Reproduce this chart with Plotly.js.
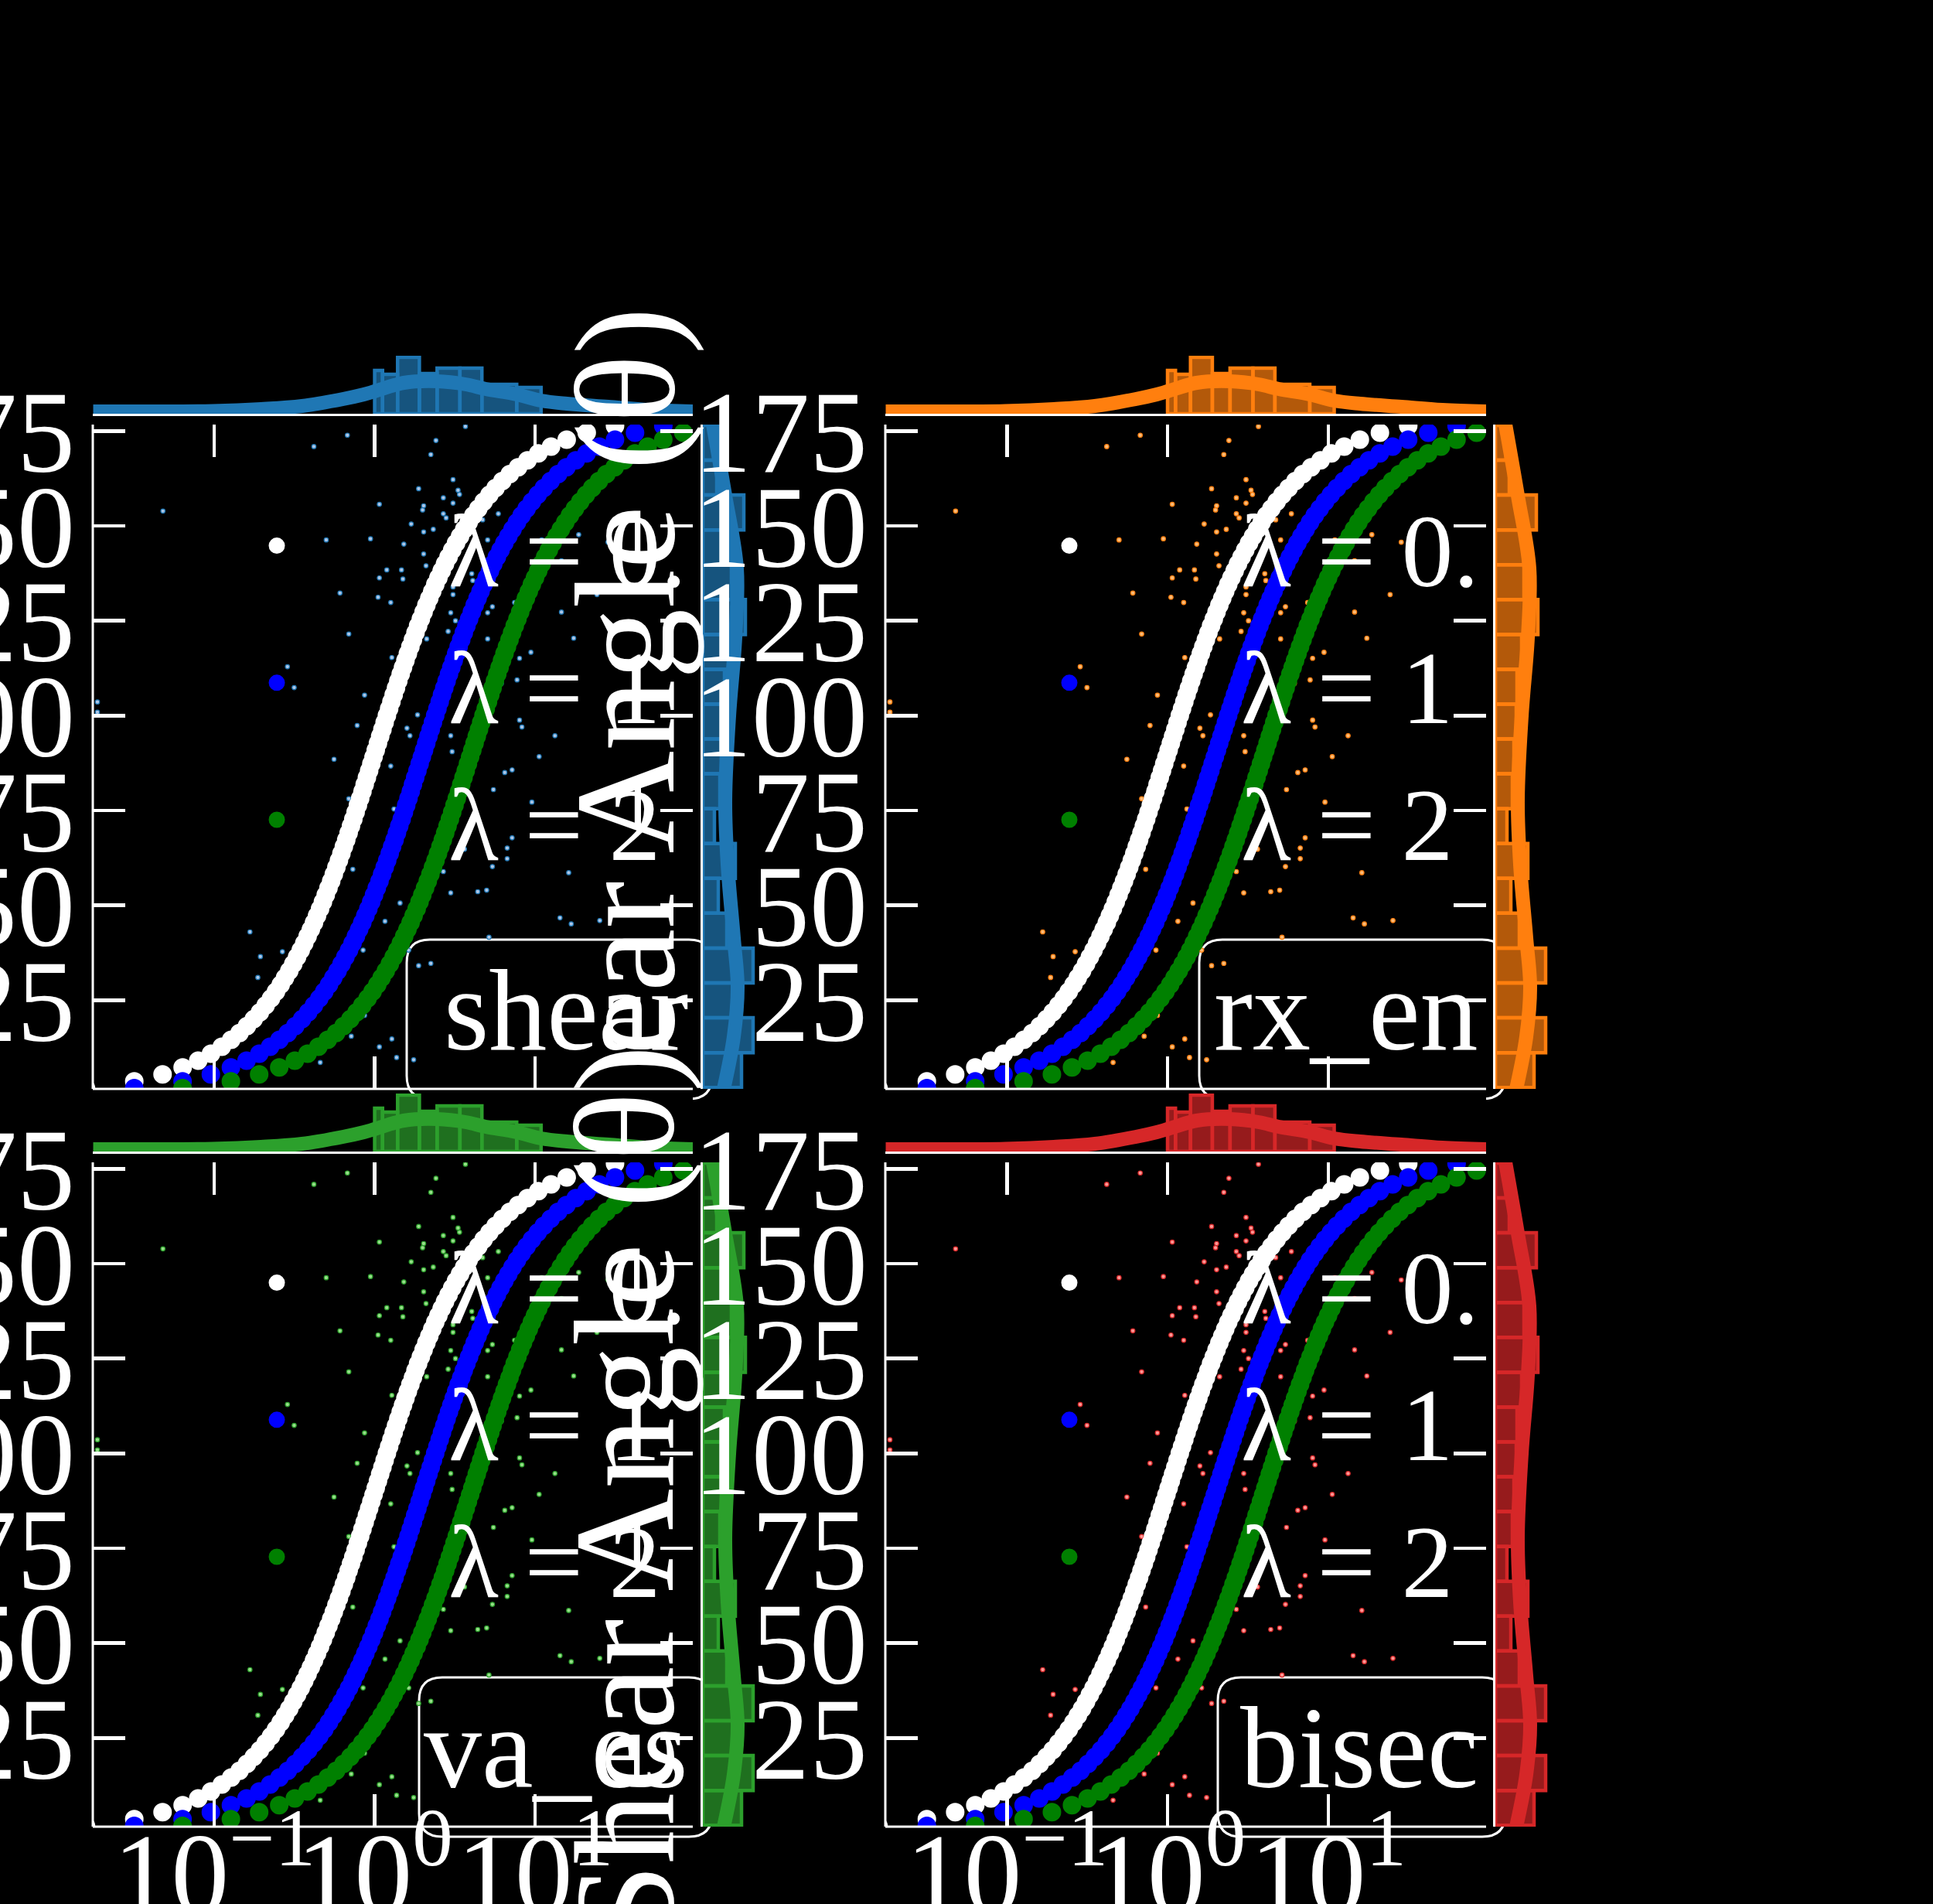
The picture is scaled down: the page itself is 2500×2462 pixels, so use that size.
<!DOCTYPE html>
<html><head><meta charset="utf-8">
<script src="https://cdn.plot.ly/plotly-3.0.1.min.js"></script>
<style>html,body{margin:0;padding:0;background:#000;}#chart{width:2500px;height:2462px;}</style>
</head><body><div id="chart"></div>
<script>
// ---------------- data ----------------
const curveTheta = [1.82,3.64,5.45,7.27,9.09,10.91,12.73,14.55,16.36,18.18,20.00,21.82,23.64,25.45,27.27,29.09,30.91,32.73,34.55,36.36,38.18,40.00,41.82,43.64,45.45,47.27,49.09,50.91,52.73,54.55,56.36,58.18,60.00,61.82,63.64,65.45,67.27,69.09,70.91,72.73,74.55,76.36,78.18,80.00,81.82,83.64,85.45,87.27,89.09,90.91,92.73,94.55,96.36,98.18,100.00,101.82,103.64,105.45,107.27,109.09,110.91,112.73,114.55,116.36,118.18,120.00,121.82,123.64,125.45,127.27,129.09,130.91,132.73,134.55,136.36,138.18,140.00,141.82,143.64,145.45,147.27,149.09,150.91,152.73,154.55,156.36,158.18,160.00,161.82,163.64,165.45,167.27,169.09,170.91,172.73,174.55,176.36,178.18];
const curveX_l05 = [0.01587,0.03174,0.04764,0.06355,0.07950,0.09549,0.1115,0.1276,0.1438,0.1600,0.1763,0.1927,0.2092,0.2259,0.2426,0.2595,0.2765,0.2936,0.3109,0.3284,0.3461,0.3640,0.3820,0.4003,0.4189,0.4376,0.4567,0.4760,0.4956,0.5155,0.5358,0.5564,0.5774,0.5987,0.6205,0.6427,0.6653,0.6885,0.7121,0.7363,0.7610,0.7864,0.8124,0.8391,0.8665,0.8947,0.9237,0.9535,0.9843,1.016,1.049,1.083,1.118,1.154,1.192,1.231,1.272,1.314,1.358,1.404,1.453,1.503,1.556,1.612,1.670,1.732,1.797,1.866,1.940,2.018,2.101,2.190,2.285,2.387,2.498,2.618,2.747,2.889,3.045,3.216,3.406,3.617,3.854,4.122,4.428,4.779,5.188,5.671,6.250,6.955,7.836,8.967,10.47,12.58,15.74,20.99,31.50,63.02];
const curveX_l1 = [0.03174,0.06348,0.09528,0.1271,0.1590,0.1910,0.2230,0.2552,0.2876,0.3200,0.3526,0.3854,0.4184,0.4518,0.4852,0.5190,0.5530,0.5872,0.6218,0.6568,0.6922,0.7280,0.7640,0.8006,0.8378,0.8752,0.9134,0.9520,0.9912,1.031,1.072,1.113,1.155,1.197,1.241,1.285,1.331,1.377,1.424,1.473,1.522,1.573,1.625,1.678,1.733,1.789,1.847,1.907,1.969,2.032,2.098,2.166,2.236,2.308,2.384,2.462,2.544,2.628,2.716,2.808,2.906,3.006,3.112,3.224,3.340,3.464,3.594,3.732,3.880,4.036,4.202,4.380,4.570,4.774,4.996,5.236,5.494,5.778,6.090,6.432,6.812,7.234,7.708,8.244,8.856,9.558,10.38,11.34,12.50,13.91,15.67,17.93,20.94,25.16,31.48,41.98,63.00,126.0];
const curveX_l2 = [0.06348,0.1270,0.1906,0.2542,0.3180,0.3820,0.4460,0.5104,0.5752,0.6400,0.7052,0.7708,0.8368,0.9036,0.9704,1.038,1.106,1.174,1.244,1.314,1.384,1.456,1.528,1.601,1.676,1.750,1.827,1.904,1.982,2.062,2.143,2.226,2.310,2.395,2.482,2.571,2.661,2.754,2.848,2.945,3.044,3.146,3.250,3.356,3.466,3.579,3.695,3.814,3.937,4.064,4.196,4.332,4.472,4.616,4.768,4.924,5.088,5.256,5.432,5.616,5.812,6.012,6.224,6.448,6.680,6.928,7.188,7.464,7.760,8.072,8.404,8.760,9.140,9.548,9.992,10.47,10.99,11.56,12.18,12.86,13.62,14.47,15.42,16.49,17.71,19.12,20.75,22.68,25.00,27.82,31.34,35.87,41.88,50.32,62.96,83.96,126.0,252.1];
const seriesNames = ['λ = 0.<span style="color:rgba(0,0,0,0)">5</span>', 'λ = 1', 'λ = 2'];
const seriesColors = ['#ffffff', '#0000ff', '#008000'];

const pointsX = [0.676,0.418,2.24,2.41,3.68,0.0479,1.88,3.08,3.31,3.38,1.07,2.02,1.99,2.68,2.68,2.79,3.08,1.69,2.02,2.32,0.499,0.942,1.52,4.71,5.90,5.06,1.07,1.19,1.47,1.50,0.608,1.05,1.26,2.02,2.09,2.77,2.68,2.87,3.08,3.08,4.03,4.09,5.42,5.06,7.45,8.58,11.0,14.6,18.7,24.3,28.5,14.6,17.4,0.690,1.28,1.63,2.98,3.19,2.87,2.11,5.06,8.00,9.42,7.72,0.286,0.315,0.865,0.778,1.59,1.66,1.85,2.98,3.04,8.00,8.28,13.3,5.42,6.16,0.558,0.690,1.26,1.32,1.63,6.47,7.19,5.50,9.55,10.6,7.19,6.70,6.70,5.42,3.63,16.2,2.68,0.731,1.16,2.98,4.39,4.99,14.3,16.8,25.3,5.16,0.167,0.266,0.194,0.187,0.847,1.16,1.44,1.63,1.88,2.24,0.865,1.07,1.37,1.75,0.715,0.652,0.458,0.427,1.28,0.0187,0.0187];
const pointsTheta = [173.9,170.9,168.8,172.5,176.2,153.9,159.8,162.2,159.4,158.3,155.7,155.3,154.2,157.4,153.2,152.1,156.0,150.5,148.4,149.1,146.3,146.6,145.2,151.6,153.2,146.3,136.3,138.4,138.4,136.0,132.3,131.2,129.8,142.6,139.5,141.5,135.6,139.5,133.9,131.9,137.4,135.6,128.7,127.1,129.8,129.8,146.3,140.8,147.7,131.9,145.7,127.3,120.4,121.5,115.3,120.4,127.1,125.0,122.2,120.2,120.2,115.1,116.7,109.4,112.9,107.4,105.4,97.4,96.7,94.7,100.2,94.7,90.5,98.8,97.0,94.7,102.3,108.5,88.5,78.1,86.7,75.4,77.7,85.0,85.7,80.5,77.2,89.2,67.8,65.1,62.3,60.2,64.8,58.6,58.9,59.5,59.5,53.3,53.6,54.0,46.7,45.1,46.0,41.6,43.0,37.8,36.5,31.0,38.2,45.8,50.6,38.2,34.1,34.7,21.0,12.7,9.9,9.3,15.5,19.6,8.6,11.3,14.8,103.6,100.9];

// top marginal (x distribution): histogram bins and KDE
const topBinEdges = [1.0,1.12,1.39,1.90,2.45,3.40,4.66,7.68,10.9];
const topBinHeights = [56,51,73,52,59,59,38,34];
const topKdeX = [0.0176,0.0501,0.0977,0.196,0.353,0.635,0.857,1.0,1.52,2.45,3.69,4.92,7.67,10.9,15.8,28.6,51.3,96.2];
const topKdeY = [3,3,3.5,6,10,19,25,29,40,42,38,32,25,17,13,9,5,3];
// right marginal (angle distribution)
const rightBinEdges = [2.0,11.18,20.37,29.55,38.74,47.92,57.10,66.29,75.47,84.66,93.84,103.02,112.21,121.39,130.58,139.76,148.94,158.13,167.31,176.50];
const rightBinLengths = [50,65,45,65,31,20,42,15,22,24,27,28,34,55,37,37,53,18,14];
const rightKdeTheta = [1.6,15.4,28.4,41.4,60.8,77.6,99.9,120.6,138.8,158.0,176.7];
const rightKdeX = [27,40,45,40,32,29,34,42,44,29,13];

const panelLabels = ['shear','rx_en','va_es','bisec'];
const panelBase = ['#1f77b4','#ff7f0e','#2ca02c','#d62728'];
const panelLight = ['#aec7e8','#ffbb78','#98df8a','#ff9896'];
const panelFill = ['rgba(31,119,180,0.7)','rgba(255,127,14,0.7)','rgba(44,160,44,0.7)','rgba(214,39,40,0.7)'];
const xTickVals = [0.1,1,10];
const xTickText = ['10<sup>−1</sup>','10<sup>0</sup>','10<sup>1</sup>'];
const yTickVals = [25,50,75,100,125,150,175];
const yTitleTop = '<span style="color:rgba(0,0,0,0)">Sh</span>ear Angle (θ)';
const yTitleBottom = 'Shear Angle (θ)';

// ---------------- layout geometry (px) ----------------
const W = 2500, H = 2462;
const px = v => v / W;
const py = v => 1 - v / H;
const X_RANGE = [-1.757, 1.983];
const Y_RANGE = [1.63, 176.7];
const COLS = [{jx0:120, jx1:896, my0:909, my1:978, boxL:[526,542], lab:892},
              {jx0:1145, jx1:1922, my0:1934, my1:2003, boxL:[1551,1575], lab:1914}];
const ROWS = [{jy0:549, jy1:1408, mx0:460, mx1:535, leg:612},
              {jy0:1503, jy1:2362, mx0:1414, mx1:1489, leg:1565}];
const FONT = 'Liberation Serif';
const tickFont = {family:FONT, size:150, color:'#fff'};

const id = k => (k === 1 ? '' : String(k));
const traces = [];
const layout = {
  width:W, height:H, margin:{l:0,r:0,t:0,b:0,pad:0},
  paper_bgcolor:'#000', plot_bgcolor:'#000',
  font:{family:FONT, color:'#fff'}, showlegend:true,
  shapes:[], annotations:[]
};

function boxPath(L, T, R, B, r) {
  const P = (x, y) => px(x).toFixed(5) + ',' + py(y).toFixed(5);
  return `M${P(L,T+r)} Q${P(L,T)} ${P(L+r,T)} L${P(R-r,T)} Q${P(R,T)} ${P(R,T+r)} L${P(R,B-r)} Q${P(R,B)} ${P(R-r,B)} L${P(L+r,B)} Q${P(L,B)} ${P(L,B-r)} Z`;
}
const boxShapes = [], coverShapes = [], spineShapes = [];

for (let p = 0; p < 4; p++) {
  const r = Math.floor(p / 2), c = p % 2;
  const C = COLS[c], R = ROWS[r];
  const n = 3 * p + 1;
  const jx = 'x' + id(n), jy = 'y' + id(n);
  const mxx = 'x' + id(n + 1), mxy = 'y' + id(n + 1);
  const myx = 'x' + id(n + 2), myy = 'y' + id(n + 2);
  const legName = 'legend' + (p === 0 ? '' : String(p + 1));

  // joint axes
  layout['xaxis' + id(n)] = {
    type:'log', domain:[px(C.jx0), px(C.jx1)], range:X_RANGE, anchor:jy,
    ticks:'inside', ticklen:42, tickwidth:4.5, tickcolor:'#fff', mirror:'ticks',
    showline:false, showgrid:false, zeroline:false,
    tickmode:'array', tickvals:xTickVals, ticktext:xTickText, tickangle:0,
    showticklabels: r === 1, tickfont:tickFont, ticklabeloverflow:'allow', ticklabelstandoff:-38
  };
  layout['yaxis' + id(n)] = {
    domain:[py(R.jy1), py(R.jy0)], range:Y_RANGE, anchor:jx,
    ticks:'inside', ticklen:42, tickwidth:4.5, tickcolor:'#fff', mirror:'ticks',
    showline:false, showgrid:false, zeroline:false,
    tickmode:'array', tickvals:yTickVals, tickfont:tickFont,
    ticklabeloverflow:'allow', ticklabelstandoff:22
  };
  // top marginal
  layout['xaxis' + id(n + 1)] = {
    type:'log', domain:[px(C.jx0), px(C.jx1)], range:X_RANGE, anchor:mxy,
    showline:true, linecolor:'#fff', linewidth:3, ticks:'', showticklabels:false,
    showgrid:false, zeroline:false
  };
  layout['yaxis' + id(n + 1)] = {domain:[py(R.mx1), py(R.mx0)], range:[0, 75], anchor:mxx, visible:false};
  // right marginal
  layout['xaxis' + id(n + 2)] = {domain:[px(C.my0), px(C.my1)], range:[0, 69], anchor:myy, visible:false};
  layout['yaxis' + id(n + 2)] = {
    domain:[py(R.jy1), py(R.jy0)], range:Y_RANGE, anchor:myx,
    showline:true, linecolor:'#fff', linewidth:3, ticks:'', showticklabels:false,
    showgrid:false, zeroline:false
  };

  // scattered measurements
  traces.push({type:'scatter', mode:'markers', x:pointsX, y:pointsTheta, xaxis:jx, yaxis:jy,
    marker:{size:5.5, color:panelLight[p], line:{color:panelBase[p], width:1.2}}, showlegend:false, hoverinfo:'skip'});
  // model curves
  [curveX_l05, curveX_l1, curveX_l2].forEach((xs, k) => {
    traces.push({type:'scatter', mode:'markers', x:xs, y:curveTheta, xaxis:jx, yaxis:jy,
      name:seriesNames[k], legend:legName,
      marker:{size:18, color:seriesColors[k], line:{color:seriesColors[k], width:6}}, hoverinfo:'skip'});
  });
  // top histogram (outlined bars on the log axis)
  const bx = [], by = [];
  for (let i = 0; i < topBinHeights.length; i++) {
    const e0 = topBinEdges[i], e1 = topBinEdges[i + 1], h = topBinHeights[i];
    bx.push(e0, e0, e1, e1, e0, null); by.push(0, h, h, 0, 0, null);
  }
  traces.push({type:'scatter', mode:'lines', x:bx, y:by, xaxis:mxx, yaxis:mxy, fill:'toself',
    fillcolor:panelFill[p], line:{color:panelBase[p], width:4.5}, showlegend:false, hoverinfo:'skip'});
  traces.push({type:'scatter', mode:'lines', x:topKdeX, y:topKdeY, xaxis:mxx, yaxis:mxy,
    line:{color:panelBase[p], width:18, shape:'spline'}, showlegend:false, hoverinfo:'skip'});
  // right histogram
  const rx = [], ry = [];
  for (let i = 0; i < rightBinLengths.length; i++) {
    const e0 = rightBinEdges[i], e1 = rightBinEdges[i + 1], L = rightBinLengths[i];
    rx.push(0, L, L, 0, 0, null); ry.push(e0, e0, e1, e1, e0, null);
  }
  traces.push({type:'scatter', mode:'lines', x:rx, y:ry, xaxis:myx, yaxis:myy, fill:'toself',
    fillcolor:panelFill[p], line:{color:panelBase[p], width:4.5}, showlegend:false, hoverinfo:'skip'});
  traces.push({type:'scatter', mode:'lines', x:rightKdeX, y:rightKdeTheta, xaxis:myx, yaxis:myy,
    line:{color:panelBase[p], width:18, shape:'spline'}, showlegend:false, hoverinfo:'skip'});

  // legend for this panel
  layout[legName] = {
    x:px(C.jx0 + 16), y:py(R.leg), xanchor:'left', yanchor:'top',
    bgcolor:'rgba(0,0,0,0)', borderwidth:0, itemwidth:434, tracegroupgap:0,
    font:{family:FONT, size:134, color:'#fff'}
  };

  // label box
  const bL = C.boxL[r], bR = C.jx1 + 25, bT = R.jy1 - 193, bB = R.jy1 + 13;
  boxShapes.push({type:'path', xref:'paper', yref:'paper', path:boxPath(bL, bT, bR, bB, 30),
    fillcolor:'#000', line:{color:'#fff', width:3}, layer:'below'});
  layout.annotations.push({xref:'paper', yref:'paper', x:px(C.lab), y:py(R.jy1 - 102),
    xanchor:'right', yanchor:'middle', text:panelLabels[p], showarrow:false,
    font:{family:FONT, size:150, color:'#fff'}});
  // backgrounds of the marginal axes that sit over earlier boxes
  coverShapes.push({type:'rect', xref:'paper', yref:'paper', x0:px(C.my0), x1:px(C.my1),
    y0:py(R.jy1), y1:py(R.jy0), fillcolor:'#000', line:{width:0}, layer:'below'});
  if (r === 1) {
    coverShapes.push({type:'rect', xref:'paper', yref:'paper', x0:px(C.jx0), x1:px(C.jx1),
      y0:py(R.mx1), y1:py(R.mx0), fillcolor:'#000', line:{width:0}, layer:'below'});
  }
  // left & bottom spines of the joint axes
  spineShapes.push({type:'line', xref:jx + ' domain', yref:jy + ' domain', x0:0, x1:0, y0:0, y1:1,
    line:{color:'#fff', width:3}, layer:'above'});
  spineShapes.push({type:'line', xref:jx + ' domain', yref:jy + ' domain', x0:0, x1:1, y0:0, y1:0,
    line:{color:'#fff', width:3}, layer:'above'});

  // y-axis title of the right-hand column (left column's lies off the page)
  if (c === 1) {
    layout.annotations.push({xref:'paper', yref:'paper', x:px(912), y:py((R.jy0 + R.jy1) / 2),
      xanchor:'right', yanchor:'middle', textangle:-90, showarrow:false,
      text: r === 0 ? yTitleTop : yTitleBottom,
      font:{family:FONT, size:184, color:'#fff'}});
  }
}
layout.shapes = boxShapes.concat(coverShapes, spineShapes);

Plotly.newPlot('chart', traces, layout, {staticPlot:true, displayModeBar:false});
</script></body></html>
